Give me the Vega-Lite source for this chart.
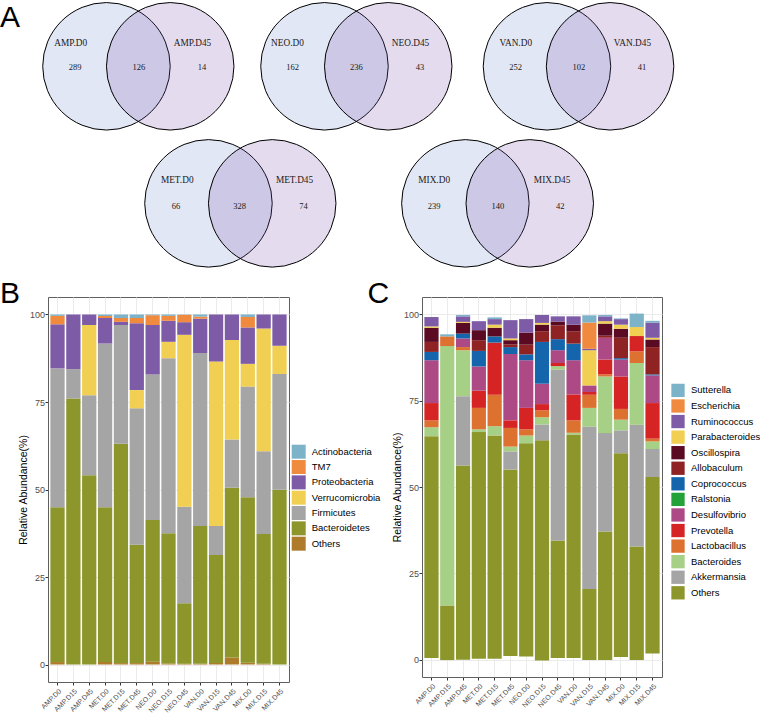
{
  "$schema": "https://vega.github.io/schema/vega-lite/v6.json",
  "padding": 0,
  "autosize": {"type": "pad"},
  "background": "white",
  "config": {
    "font": "Liberation Sans",
    "axis": {"labelFont": "Liberation Sans", "titleFont": "Liberation Sans"},
    "legend": {"labelFont": "Liberation Sans"}
  },
  "columns": 2,
  "bounds": "flush",
  "center": true,
  "spacing": {"row": 17, "column": 133},
  "resolve": {"scale": {"color": "independent", "fill": "independent"}, "legend": {"color": "independent", "fill": "independent"}},
  "datasets": {
    "letters": [
      {"t": "A", "x": 0, "y": 0.4267},
      {"t": "B", "x": 0, "y": 4.753},
      {"t": "C", "x": 5.765, "y": 4.753}
    ],
    "circles": [
      {"venn": "AMP", "set": "D0", "x": 1.67, "y": 1.04},
      {"venn": "AMP", "set": "D45", "x": 2.67, "y": 1.04},
      {"venn": "NEO", "set": "D0", "x": 5.09, "y": 1.04},
      {"venn": "NEO", "set": "D45", "x": 6.09, "y": 1.04},
      {"venn": "VAN", "set": "D0", "x": 8.58, "y": 1.04},
      {"venn": "VAN", "set": "D45", "x": 9.57, "y": 1.04},
      {"venn": "MET", "set": "D0", "x": 3.27, "y": 3.19},
      {"venn": "MET", "set": "D45", "x": 4.27, "y": 3.19},
      {"venn": "MIX", "set": "D0", "x": 7.30, "y": 3.19},
      {"venn": "MIX", "set": "D45", "x": 8.31, "y": 3.19}
    ],
    "vennText": [
      {"kind": "set", "t": "AMP.D0", "x": 1.11, "y": 0.68},
      {"kind": "set", "t": "AMP.D45", "x": 3.02, "y": 0.68},
      {"kind": "count", "t": "289", "x": 1.18, "y": 1.05},
      {"kind": "count", "t": "126", "x": 2.18, "y": 1.05},
      {"kind": "count", "t": "14", "x": 3.17, "y": 1.05},
      {"kind": "set", "t": "NEO.D0", "x": 4.51, "y": 0.68},
      {"kind": "set", "t": "NEO.D45", "x": 6.44, "y": 0.68},
      {"kind": "count", "t": "162", "x": 4.59, "y": 1.05},
      {"kind": "count", "t": "236", "x": 5.59, "y": 1.05},
      {"kind": "count", "t": "43", "x": 6.59, "y": 1.05},
      {"kind": "set", "t": "VAN.D0", "x": 8.09, "y": 0.68},
      {"kind": "set", "t": "VAN.D45", "x": 9.92, "y": 0.68},
      {"kind": "count", "t": "252", "x": 8.09, "y": 1.05},
      {"kind": "count", "t": "102", "x": 9.08, "y": 1.05},
      {"kind": "count", "t": "41", "x": 10.07, "y": 1.05},
      {"kind": "set", "t": "MET.D0", "x": 2.78, "y": 2.83},
      {"kind": "set", "t": "MET.D45", "x": 4.62, "y": 2.83},
      {"kind": "count", "t": "66", "x": 2.76, "y": 3.23},
      {"kind": "count", "t": "328", "x": 3.76, "y": 3.23},
      {"kind": "count", "t": "74", "x": 4.76, "y": 3.23},
      {"kind": "set", "t": "MIX.D0", "x": 6.81, "y": 2.83},
      {"kind": "set", "t": "MIX.D45", "x": 8.66, "y": 2.83},
      {"kind": "count", "t": "239", "x": 6.81, "y": 3.23},
      {"kind": "count", "t": "140", "x": 7.81, "y": 3.23},
      {"kind": "count", "t": "42", "x": 8.79, "y": 3.23}
    ],
    "phylum": [
      {"s": "AMP.D0", "p": "Others", "lo": 0, "hi": 0.7},
      {"s": "AMP.D0", "p": "Bacteroidetes", "lo": 0.7, "hi": 44.9},
      {"s": "AMP.D0", "p": "Firmicutes", "lo": 44.9, "hi": 84.6},
      {"s": "AMP.D0", "p": "Proteobacteria", "lo": 84.6, "hi": 97.2},
      {"s": "AMP.D0", "p": "TM7", "lo": 97.2, "hi": 99.6},
      {"s": "AMP.D0", "p": "Actinobacteria", "lo": 99.6, "hi": 100},
      {"s": "AMP.D15", "p": "Bacteroidetes", "lo": 0, "hi": 76.0},
      {"s": "AMP.D15", "p": "Firmicutes", "lo": 76.0, "hi": 84.4},
      {"s": "AMP.D15", "p": "Proteobacteria", "lo": 84.4, "hi": 100},
      {"s": "AMP.D45", "p": "Bacteroidetes", "lo": 0, "hi": 54.1},
      {"s": "AMP.D45", "p": "Firmicutes", "lo": 54.1, "hi": 76.9},
      {"s": "AMP.D45", "p": "Verrucomicrobia", "lo": 76.9, "hi": 97.0},
      {"s": "AMP.D45", "p": "Proteobacteria", "lo": 97.0, "hi": 100},
      {"s": "MET.D0", "p": "Others", "lo": 0, "hi": 0.7},
      {"s": "MET.D0", "p": "Bacteroidetes", "lo": 0.7, "hi": 44.9},
      {"s": "MET.D0", "p": "Firmicutes", "lo": 44.9, "hi": 91.7},
      {"s": "MET.D0", "p": "Proteobacteria", "lo": 91.7, "hi": 99.0},
      {"s": "MET.D0", "p": "TM7", "lo": 99.0, "hi": 99.6},
      {"s": "MET.D0", "p": "Actinobacteria", "lo": 99.6, "hi": 100},
      {"s": "MET.D15", "p": "Others", "lo": 0, "hi": 0.4},
      {"s": "MET.D15", "p": "Bacteroidetes", "lo": 0.4, "hi": 63.1},
      {"s": "MET.D15", "p": "Firmicutes", "lo": 63.1, "hi": 97.0},
      {"s": "MET.D15", "p": "Proteobacteria", "lo": 97.0, "hi": 97.9},
      {"s": "MET.D15", "p": "TM7", "lo": 97.9, "hi": 99.0},
      {"s": "MET.D15", "p": "Actinobacteria", "lo": 99.0, "hi": 100},
      {"s": "MET.D45", "p": "Others", "lo": 0, "hi": 0.4},
      {"s": "MET.D45", "p": "Bacteroidetes", "lo": 0.4, "hi": 34.2},
      {"s": "MET.D45", "p": "Firmicutes", "lo": 34.2, "hi": 73.2},
      {"s": "MET.D45", "p": "Verrucomicrobia", "lo": 73.2, "hi": 78.4},
      {"s": "MET.D45", "p": "Proteobacteria", "lo": 78.4, "hi": 97.5},
      {"s": "MET.D45", "p": "TM7", "lo": 97.5, "hi": 99.0},
      {"s": "MET.D45", "p": "Actinobacteria", "lo": 99.0, "hi": 100},
      {"s": "NEO.D0", "p": "Others", "lo": 0, "hi": 0.8},
      {"s": "NEO.D0", "p": "Bacteroidetes", "lo": 0.8, "hi": 41.3},
      {"s": "NEO.D0", "p": "Firmicutes", "lo": 41.3, "hi": 82.9},
      {"s": "NEO.D0", "p": "Proteobacteria", "lo": 82.9, "hi": 97.0},
      {"s": "NEO.D0", "p": "TM7", "lo": 97.0, "hi": 99.8},
      {"s": "NEO.D0", "p": "Actinobacteria", "lo": 99.8, "hi": 100},
      {"s": "NEO.D15", "p": "Others", "lo": 0, "hi": 0.3},
      {"s": "NEO.D15", "p": "Bacteroidetes", "lo": 0.3, "hi": 37.5},
      {"s": "NEO.D15", "p": "Firmicutes", "lo": 37.5, "hi": 87.5},
      {"s": "NEO.D15", "p": "Verrucomicrobia", "lo": 87.5, "hi": 92.2},
      {"s": "NEO.D15", "p": "Proteobacteria", "lo": 92.2, "hi": 98.2},
      {"s": "NEO.D15", "p": "TM7", "lo": 98.2, "hi": 99.6},
      {"s": "NEO.D15", "p": "Actinobacteria", "lo": 99.6, "hi": 100},
      {"s": "NEO.D45", "p": "Others", "lo": 0, "hi": 0.2},
      {"s": "NEO.D45", "p": "Bacteroidetes", "lo": 0.2, "hi": 17.5},
      {"s": "NEO.D45", "p": "Firmicutes", "lo": 17.5, "hi": 45.1},
      {"s": "NEO.D45", "p": "Verrucomicrobia", "lo": 45.1, "hi": 94.2},
      {"s": "NEO.D45", "p": "Proteobacteria", "lo": 94.2, "hi": 97.8},
      {"s": "NEO.D45", "p": "TM7", "lo": 97.8, "hi": 99.9},
      {"s": "NEO.D45", "p": "Actinobacteria", "lo": 99.9, "hi": 100},
      {"s": "VAN.D0", "p": "Others", "lo": 0, "hi": 0.2},
      {"s": "VAN.D0", "p": "Bacteroidetes", "lo": 0.2, "hi": 39.6},
      {"s": "VAN.D0", "p": "Firmicutes", "lo": 39.6, "hi": 89.0},
      {"s": "VAN.D0", "p": "Proteobacteria", "lo": 89.0, "hi": 98.8},
      {"s": "VAN.D0", "p": "TM7", "lo": 98.8, "hi": 99.4},
      {"s": "VAN.D0", "p": "Actinobacteria", "lo": 99.4, "hi": 100},
      {"s": "VAN.D15", "p": "Others", "lo": 0, "hi": 0.4},
      {"s": "VAN.D15", "p": "Bacteroidetes", "lo": 0.4, "hi": 31.3},
      {"s": "VAN.D15", "p": "Firmicutes", "lo": 31.3, "hi": 39.6},
      {"s": "VAN.D15", "p": "Verrucomicrobia", "lo": 39.6, "hi": 86.6},
      {"s": "VAN.D15", "p": "Proteobacteria", "lo": 86.6, "hi": 100},
      {"s": "VAN.D45", "p": "Others", "lo": 0, "hi": 2.0},
      {"s": "VAN.D45", "p": "Bacteroidetes", "lo": 2.0, "hi": 50.5},
      {"s": "VAN.D45", "p": "Firmicutes", "lo": 50.5, "hi": 64.3},
      {"s": "VAN.D45", "p": "Verrucomicrobia", "lo": 64.3, "hi": 92.7},
      {"s": "VAN.D45", "p": "Proteobacteria", "lo": 92.7, "hi": 100},
      {"s": "MIX.D0", "p": "Others", "lo": 0, "hi": 0.5},
      {"s": "MIX.D0", "p": "Bacteroidetes", "lo": 0.5, "hi": 47.8},
      {"s": "MIX.D0", "p": "Firmicutes", "lo": 47.8, "hi": 79.4},
      {"s": "MIX.D0", "p": "Verrucomicrobia", "lo": 79.4, "hi": 85.9},
      {"s": "MIX.D0", "p": "Proteobacteria", "lo": 85.9, "hi": 96.3},
      {"s": "MIX.D0", "p": "TM7", "lo": 96.3, "hi": 99.3},
      {"s": "MIX.D0", "p": "Actinobacteria", "lo": 99.3, "hi": 100},
      {"s": "MIX.D15", "p": "Others", "lo": 0, "hi": 0.2},
      {"s": "MIX.D15", "p": "Bacteroidetes", "lo": 0.2, "hi": 37.3},
      {"s": "MIX.D15", "p": "Firmicutes", "lo": 37.3, "hi": 60.9},
      {"s": "MIX.D15", "p": "Verrucomicrobia", "lo": 60.9, "hi": 96.0},
      {"s": "MIX.D15", "p": "Proteobacteria", "lo": 96.0, "hi": 100},
      {"s": "MIX.D45", "p": "Bacteroidetes", "lo": 0, "hi": 49.9},
      {"s": "MIX.D45", "p": "Firmicutes", "lo": 49.9, "hi": 83.0},
      {"s": "MIX.D45", "p": "Verrucomicrobia", "lo": 83.0, "hi": 91.1},
      {"s": "MIX.D45", "p": "Proteobacteria", "lo": 91.1, "hi": 100}
    ],
    "genus": [
      {"s": "AMP.D0", "g": "Others", "lo": 0.5, "hi": 64.7},
      {"s": "AMP.D0", "g": "Bacteroides", "lo": 64.7, "hi": 67.3},
      {"s": "AMP.D0", "g": "Lactobacillus", "lo": 67.3, "hi": 69.3},
      {"s": "AMP.D0", "g": "Prevotella", "lo": 69.3, "hi": 74.3},
      {"s": "AMP.D0", "g": "Desulfovibrio", "lo": 74.3, "hi": 86.7},
      {"s": "AMP.D0", "g": "Coprococcus", "lo": 86.7, "hi": 89.1},
      {"s": "AMP.D0", "g": "Allobaculum", "lo": 89.1, "hi": 92.0},
      {"s": "AMP.D0", "g": "Oscillospira", "lo": 92.0, "hi": 96.1},
      {"s": "AMP.D0", "g": "Parabacteroides", "lo": 96.1, "hi": 96.5},
      {"s": "AMP.D0", "g": "Ruminococcus", "lo": 96.5, "hi": 99.2},
      {"s": "AMP.D15", "g": "Others", "lo": -0.1, "hi": 15.7},
      {"s": "AMP.D15", "g": "Bacteroides", "lo": 15.7, "hi": 90.8},
      {"s": "AMP.D15", "g": "Lactobacillus", "lo": 90.8, "hi": 93.6},
      {"s": "AMP.D15", "g": "Sutterella", "lo": 93.6, "hi": 94.2},
      {"s": "AMP.D45", "g": "Others", "lo": 0, "hi": 56.2},
      {"s": "AMP.D45", "g": "Akkermansia", "lo": 56.2, "hi": 76.3},
      {"s": "AMP.D45", "g": "Bacteroides", "lo": 76.3, "hi": 89.6},
      {"s": "AMP.D45", "g": "Lactobacillus", "lo": 89.6, "hi": 90.5},
      {"s": "AMP.D45", "g": "Desulfovibrio", "lo": 90.5, "hi": 93.0},
      {"s": "AMP.D45", "g": "Coprococcus", "lo": 93.0, "hi": 94.4},
      {"s": "AMP.D45", "g": "Oscillospira", "lo": 94.4, "hi": 97.5},
      {"s": "AMP.D45", "g": "Parabacteroides", "lo": 97.5, "hi": 97.8},
      {"s": "AMP.D45", "g": "Ruminococcus", "lo": 97.8, "hi": 99.4},
      {"s": "AMP.D45", "g": "Sutterella", "lo": 99.4, "hi": 99.8},
      {"s": "MET.D0", "g": "Others", "lo": 0.3, "hi": 65.9},
      {"s": "MET.D0", "g": "Bacteroides", "lo": 65.9, "hi": 66.7},
      {"s": "MET.D0", "g": "Lactobacillus", "lo": 66.7, "hi": 72.9},
      {"s": "MET.D0", "g": "Prevotella", "lo": 72.9, "hi": 77.9},
      {"s": "MET.D0", "g": "Desulfovibrio", "lo": 77.9, "hi": 84.9},
      {"s": "MET.D0", "g": "Coprococcus", "lo": 84.9, "hi": 89.4},
      {"s": "MET.D0", "g": "Allobaculum", "lo": 89.4, "hi": 92.5},
      {"s": "MET.D0", "g": "Oscillospira", "lo": 92.5, "hi": 95.4},
      {"s": "MET.D0", "g": "Ruminococcus", "lo": 95.4, "hi": 98.0},
      {"s": "MET.D15", "g": "Others", "lo": 0.3, "hi": 64.9},
      {"s": "MET.D15", "g": "Bacteroides", "lo": 64.9, "hi": 67.6},
      {"s": "MET.D15", "g": "Lactobacillus", "lo": 67.6, "hi": 76.7},
      {"s": "MET.D15", "g": "Prevotella", "lo": 76.7, "hi": 91.8},
      {"s": "MET.D15", "g": "Coprococcus", "lo": 91.8, "hi": 93.6},
      {"s": "MET.D15", "g": "Oscillospira", "lo": 93.6, "hi": 96.1},
      {"s": "MET.D15", "g": "Parabacteroides", "lo": 96.1, "hi": 97.0},
      {"s": "MET.D15", "g": "Ruminococcus", "lo": 97.0, "hi": 98.6},
      {"s": "MET.D15", "g": "Sutterella", "lo": 98.6, "hi": 99.1},
      {"s": "MET.D45", "g": "Others", "lo": 1.1, "hi": 55.1},
      {"s": "MET.D45", "g": "Akkermansia", "lo": 55.1, "hi": 60.3},
      {"s": "MET.D45", "g": "Bacteroides", "lo": 60.3, "hi": 61.7},
      {"s": "MET.D45", "g": "Lactobacillus", "lo": 61.7, "hi": 67.1},
      {"s": "MET.D45", "g": "Prevotella", "lo": 67.1, "hi": 69.3},
      {"s": "MET.D45", "g": "Desulfovibrio", "lo": 69.3, "hi": 88.5},
      {"s": "MET.D45", "g": "Coprococcus", "lo": 88.5, "hi": 90.5},
      {"s": "MET.D45", "g": "Allobaculum", "lo": 90.5, "hi": 91.3},
      {"s": "MET.D45", "g": "Oscillospira", "lo": 91.3, "hi": 92.5},
      {"s": "MET.D45", "g": "Parabacteroides", "lo": 92.5, "hi": 93.0},
      {"s": "MET.D45", "g": "Ruminococcus", "lo": 93.0, "hi": 98.3},
      {"s": "NEO.D0", "g": "Others", "lo": 0.9, "hi": 62.7},
      {"s": "NEO.D0", "g": "Bacteroides", "lo": 62.7, "hi": 64.9},
      {"s": "NEO.D0", "g": "Lactobacillus", "lo": 64.9, "hi": 66.7},
      {"s": "NEO.D0", "g": "Prevotella", "lo": 66.7, "hi": 72.9},
      {"s": "NEO.D0", "g": "Desulfovibrio", "lo": 72.9, "hi": 86.7},
      {"s": "NEO.D0", "g": "Coprococcus", "lo": 86.7, "hi": 88.4},
      {"s": "NEO.D0", "g": "Allobaculum", "lo": 88.4, "hi": 91.2},
      {"s": "NEO.D0", "g": "Oscillospira", "lo": 91.2, "hi": 94.7},
      {"s": "NEO.D0", "g": "Ruminococcus", "lo": 94.7, "hi": 98.6},
      {"s": "NEO.D15", "g": "Others", "lo": -0.2, "hi": 63.5},
      {"s": "NEO.D15", "g": "Akkermansia", "lo": 63.5, "hi": 68.1},
      {"s": "NEO.D15", "g": "Bacteroides", "lo": 68.1, "hi": 70.2},
      {"s": "NEO.D15", "g": "Lactobacillus", "lo": 70.2, "hi": 72.2},
      {"s": "NEO.D15", "g": "Prevotella", "lo": 72.2, "hi": 74.0},
      {"s": "NEO.D15", "g": "Desulfovibrio", "lo": 74.0, "hi": 79.9},
      {"s": "NEO.D15", "g": "Coprococcus", "lo": 79.9, "hi": 92.0},
      {"s": "NEO.D15", "g": "Allobaculum", "lo": 92.0, "hi": 95.1},
      {"s": "NEO.D15", "g": "Oscillospira", "lo": 95.1, "hi": 97.0},
      {"s": "NEO.D15", "g": "Parabacteroides", "lo": 97.0, "hi": 97.5},
      {"s": "NEO.D15", "g": "Ruminococcus", "lo": 97.5, "hi": 99.8},
      {"s": "NEO.D45", "g": "Others", "lo": 0.5, "hi": 34.5},
      {"s": "NEO.D45", "g": "Akkermansia", "lo": 34.5, "hi": 84.0},
      {"s": "NEO.D45", "g": "Bacteroides", "lo": 84.0, "hi": 85.0},
      {"s": "NEO.D45", "g": "Prevotella", "lo": 85.0, "hi": 85.9},
      {"s": "NEO.D45", "g": "Desulfovibrio", "lo": 85.9, "hi": 89.6},
      {"s": "NEO.D45", "g": "Coprococcus", "lo": 89.6, "hi": 92.8},
      {"s": "NEO.D45", "g": "Allobaculum", "lo": 92.8, "hi": 96.8},
      {"s": "NEO.D45", "g": "Oscillospira", "lo": 96.8, "hi": 97.9},
      {"s": "NEO.D45", "g": "Ruminococcus", "lo": 97.9, "hi": 99.4},
      {"s": "VAN.D0", "g": "Others", "lo": 0.5, "hi": 65.2},
      {"s": "VAN.D0", "g": "Bacteroides", "lo": 65.2, "hi": 65.7},
      {"s": "VAN.D0", "g": "Lactobacillus", "lo": 65.7, "hi": 69.3},
      {"s": "VAN.D0", "g": "Prevotella", "lo": 69.3, "hi": 76.8},
      {"s": "VAN.D0", "g": "Desulfovibrio", "lo": 76.8, "hi": 86.7},
      {"s": "VAN.D0", "g": "Coprococcus", "lo": 86.7, "hi": 91.5},
      {"s": "VAN.D0", "g": "Allobaculum", "lo": 91.5, "hi": 95.1},
      {"s": "VAN.D0", "g": "Oscillospira", "lo": 95.1, "hi": 97.0},
      {"s": "VAN.D0", "g": "Ruminococcus", "lo": 97.0, "hi": 99.4},
      {"s": "VAN.D15", "g": "Others", "lo": -0.1, "hi": 20.5},
      {"s": "VAN.D15", "g": "Akkermansia", "lo": 20.5, "hi": 67.5},
      {"s": "VAN.D15", "g": "Bacteroides", "lo": 67.5, "hi": 72.9},
      {"s": "VAN.D15", "g": "Lactobacillus", "lo": 72.9, "hi": 76.7},
      {"s": "VAN.D15", "g": "Prevotella", "lo": 76.7, "hi": 77.5},
      {"s": "VAN.D15", "g": "Desulfovibrio", "lo": 77.5, "hi": 79.4},
      {"s": "VAN.D15", "g": "Parabacteroides", "lo": 79.4, "hi": 89.6},
      {"s": "VAN.D15", "g": "Ruminococcus", "lo": 89.6, "hi": 90.0},
      {"s": "VAN.D15", "g": "Escherichia", "lo": 90.0, "hi": 97.6},
      {"s": "VAN.D15", "g": "Sutterella", "lo": 97.6, "hi": 99.7},
      {"s": "VAN.D45", "g": "Others", "lo": -0.1, "hi": 37.1},
      {"s": "VAN.D45", "g": "Akkermansia", "lo": 37.1, "hi": 65.6},
      {"s": "VAN.D45", "g": "Bacteroides", "lo": 65.6, "hi": 82.0},
      {"s": "VAN.D45", "g": "Lactobacillus", "lo": 82.0, "hi": 82.6},
      {"s": "VAN.D45", "g": "Prevotella", "lo": 82.6, "hi": 86.9},
      {"s": "VAN.D45", "g": "Desulfovibrio", "lo": 86.9, "hi": 93.2},
      {"s": "VAN.D45", "g": "Allobaculum", "lo": 93.2, "hi": 93.8},
      {"s": "VAN.D45", "g": "Oscillospira", "lo": 93.8, "hi": 97.3},
      {"s": "VAN.D45", "g": "Parabacteroides", "lo": 97.3, "hi": 98.0},
      {"s": "VAN.D45", "g": "Ruminococcus", "lo": 98.0, "hi": 99.4},
      {"s": "VAN.D45", "g": "Sutterella", "lo": 99.4, "hi": 99.8},
      {"s": "MIX.D0", "g": "Others", "lo": 0.8, "hi": 59.8},
      {"s": "MIX.D0", "g": "Akkermansia", "lo": 59.8, "hi": 66.4},
      {"s": "MIX.D0", "g": "Bacteroides", "lo": 66.4, "hi": 69.5},
      {"s": "MIX.D0", "g": "Lactobacillus", "lo": 69.5, "hi": 72.6},
      {"s": "MIX.D0", "g": "Prevotella", "lo": 72.6, "hi": 82.0},
      {"s": "MIX.D0", "g": "Desulfovibrio", "lo": 82.0, "hi": 86.9},
      {"s": "MIX.D0", "g": "Coprococcus", "lo": 86.9, "hi": 87.3},
      {"s": "MIX.D0", "g": "Allobaculum", "lo": 87.3, "hi": 93.2},
      {"s": "MIX.D0", "g": "Oscillospira", "lo": 93.2, "hi": 95.8},
      {"s": "MIX.D0", "g": "Parabacteroides", "lo": 95.8, "hi": 97.0},
      {"s": "MIX.D0", "g": "Ruminococcus", "lo": 97.0, "hi": 98.6},
      {"s": "MIX.D0", "g": "Sutterella", "lo": 98.6, "hi": 98.8},
      {"s": "MIX.D15", "g": "Others", "lo": -0.1, "hi": 32.8},
      {"s": "MIX.D15", "g": "Akkermansia", "lo": 32.8, "hi": 68.0},
      {"s": "MIX.D15", "g": "Bacteroides", "lo": 68.0, "hi": 85.9},
      {"s": "MIX.D15", "g": "Lactobacillus", "lo": 85.9, "hi": 89.3},
      {"s": "MIX.D15", "g": "Prevotella", "lo": 89.3, "hi": 93.7},
      {"s": "MIX.D15", "g": "Parabacteroides", "lo": 93.7, "hi": 96.3},
      {"s": "MIX.D15", "g": "Sutterella", "lo": 96.3, "hi": 100.2},
      {"s": "MIX.D45", "g": "Others", "lo": 1.8, "hi": 52.9},
      {"s": "MIX.D45", "g": "Akkermansia", "lo": 52.9, "hi": 61.0},
      {"s": "MIX.D45", "g": "Bacteroides", "lo": 61.0, "hi": 63.2},
      {"s": "MIX.D45", "g": "Lactobacillus", "lo": 63.2, "hi": 64.0},
      {"s": "MIX.D45", "g": "Prevotella", "lo": 64.0, "hi": 74.3},
      {"s": "MIX.D45", "g": "Desulfovibrio", "lo": 74.3, "hi": 82.3},
      {"s": "MIX.D45", "g": "Coprococcus", "lo": 82.3, "hi": 82.6},
      {"s": "MIX.D45", "g": "Allobaculum", "lo": 82.6, "hi": 90.5},
      {"s": "MIX.D45", "g": "Oscillospira", "lo": 90.5, "hi": 92.7},
      {"s": "MIX.D45", "g": "Parabacteroides", "lo": 92.7, "hi": 93.2},
      {"s": "MIX.D45", "g": "Ruminococcus", "lo": 93.2, "hi": 97.6},
      {"s": "MIX.D45", "g": "Sutterella", "lo": 97.6, "hi": 98.1}
    ]
  },
  "concat": [
    {
      "width": 241,
      "height": 280,
      "view": {"stroke": null},
      "layer": [
        {
          "data": {"name": "circles"},
          "mark": {"type": "point", "shape": "circle", "filled": true, "size": 16256, "opacity": 1, "fillOpacity": 0.2, "stroke": "#000000", "strokeWidth": 1, "strokeOpacity": 1},
          "encoding": {
            "x": {"field": "x", "type": "quantitative", "scale": {"domain": [0.75294, 4.53333], "nice": false, "zero": false}, "axis": null},
            "y": {"field": "y", "type": "quantitative", "scale": {"domain": [0, 4.39216], "nice": false, "zero": false, "reverse": true}, "axis": null},
            "fill": {"field": "set", "type": "nominal", "scale": {"domain": ["D0", "D45"], "range": ["#6987c8", "#7850aa"]}, "legend": null}
          }
        },
        {
          "data": {"name": "vennText"},
          "transform": [{"filter": {"field": "kind", "equal": "set"}}],
          "mark": {"type": "text", "font": "Liberation Serif", "fontSize": 9.3, "color": "#1a1a1a", "baseline": "middle", "align": "center"},
          "encoding": {
            "x": {"field": "x", "type": "quantitative"},
            "y": {"field": "y", "type": "quantitative"},
            "text": {"field": "t"}
          }
        },
        {
          "data": {"name": "vennText"},
          "transform": [{"filter": {"field": "kind", "equal": "count"}}],
          "mark": {"type": "text", "font": "Liberation Serif", "fontSize": 8.5, "color": "#1a1a1a", "baseline": "middle", "align": "center"},
          "encoding": {
            "x": {"field": "x", "type": "quantitative"},
            "y": {"field": "y", "type": "quantitative"},
            "text": {"field": "t"}
          }
        },
        {
          "data": {"name": "letters"},
          "mark": {"type": "text", "font": "Liberation Sans", "fontSize": 30, "color": "#000000", "baseline": "alphabetic", "align": "left"},
          "encoding": {
            "x": {"field": "x", "type": "quantitative"},
            "y": {"field": "y", "type": "quantitative"},
            "text": {"field": "t"}
          }
        }
      ]
    },
    {
      "width": 240,
      "height": 280,
      "view": {"stroke": null},
      "data": {"values": [{"k": 1}]},
      "mark": {"type": "text", "text": " "},
      "encoding": {}
    },
    {
      "width": 241,
      "height": 385,
      "view": {"stroke": "#5f5f5f", "strokeWidth": 1},
      "data": {"name": "phylum"},
      "mark": {"type": "bar"},
      "encoding": {
        "x": {
          "field": "s", "type": "nominal",
          "sort": ["AMP.D0", "AMP.D15", "AMP.D45", "MET.D0", "MET.D15", "MET.D45", "NEO.D0", "NEO.D15", "NEO.D45", "VAN.D0", "VAN.D15", "VAN.D45", "MIX.D0", "MIX.D15", "MIX.D45"],
          "scale": {"paddingInner": 0.1, "paddingOuter": 0.15},
          "axis": {"title": null, "labelAngle": -45, "labelFontSize": 7, "labelColor": "#4d4d4d", "labelPadding": 2, "tickSize": 3, "tickColor": "#333333", "domain": false, "grid": true, "gridColor": "#ebebeb", "bandPosition": 0.5}
        },
        "y": {
          "field": "lo", "type": "quantitative",
          "scale": {"domain": [-5, 105], "nice": false, "zero": false},
          "axis": {"values": [0, 25, 50, 75, 100], "title": "Relative Abundance(%)", "titleFontSize": 10.5, "titleFontWeight": "normal", "titleColor": "#000000", "titlePadding": 0.5, "labelFontSize": 9, "labelColor": "#4d4d4d", "labelPadding": 0.5, "tickSize": 3, "tickColor": "#333333", "domain": false, "grid": true, "gridColor": "#ebebeb"}
        },
        "y2": {"field": "hi"},
        "color": {
          "field": "p", "type": "nominal",
          "scale": {
            "domain": ["Actinobacteria", "TM7", "Proteobacteria", "Verrucomicrobia", "Firmicutes", "Bacteroidetes", "Others"],
            "range": ["#7db3c8", "#ef8a3e", "#7d5ba6", "#f0cf52", "#a5a5a5", "#8c962b", "#ad7b2a"]
          },
          "legend": {"title": null, "orient": "none", "legendX": 243.7, "legendY": 147.7, "symbolType": "square", "symbolSize": 196, "symbolStrokeWidth": 0, "labelFontSize": 9.5, "labelColor": "#000000", "labelOffset": 6, "rowPadding": 1.33, "padding": 0}
        }
      }
    },
    {
      "width": 240,
      "height": 380,
      "view": {"stroke": "#5f5f5f", "strokeWidth": 1},
      "data": {"name": "genus"},
      "mark": {"type": "bar"},
      "encoding": {
        "x": {
          "field": "s", "type": "nominal",
          "sort": ["AMP.D0", "AMP.D15", "AMP.D45", "MET.D0", "MET.D15", "MET.D45", "NEO.D0", "NEO.D15", "NEO.D45", "VAN.D0", "VAN.D15", "VAN.D45", "MIX.D0", "MIX.D15", "MIX.D45"],
          "scale": {"paddingInner": 0.1, "paddingOuter": 0.15},
          "axis": {"title": null, "labelAngle": -45, "labelFontSize": 7, "labelColor": "#4d4d4d", "labelPadding": 2, "tickSize": 3, "tickColor": "#333333", "domain": false, "grid": true, "gridColor": "#ebebeb", "bandPosition": 0.5}
        },
        "y": {
          "field": "lo", "type": "quantitative",
          "scale": {"domain": [-5, 105], "nice": false, "zero": false},
          "axis": {"values": [0, 25, 50, 75, 100], "title": "Relative Abundance(%)", "titleFontSize": 10.5, "titleFontWeight": "normal", "titleColor": "#000000", "titlePadding": 0.5, "labelFontSize": 9, "labelColor": "#4d4d4d", "labelPadding": 0.5, "tickSize": 3, "tickColor": "#333333", "domain": false, "grid": true, "gridColor": "#ebebeb"}
        },
        "y2": {"field": "hi"},
        "color": {
          "field": "g", "type": "nominal",
          "scale": {
            "domain": ["Sutterella", "Escherichia", "Ruminococcus", "Parabacteroides", "Oscillospira", "Allobaculum", "Coprococcus", "Ralstonia", "Desulfovibrio", "Prevotella", "Lactobacillus", "Bacteroides", "Akkermansia", "Others"],
            "range": ["#7db3c8", "#ef8a3e", "#7d5ba6", "#f0cf52", "#5a0b23", "#8f2323", "#1565ac", "#23a23a", "#ad4a86", "#d62424", "#dd7130", "#a6d085", "#a5a5a5", "#8c962b"]
          },
          "legend": {"title": null, "orient": "none", "legendX": 249, "legendY": 86.4, "symbolType": "square", "symbolSize": 177, "symbolStrokeWidth": 0, "labelFontSize": 9.5, "labelColor": "#000000", "labelOffset": 6, "rowPadding": 1.57, "padding": 0}
        }
      }
    }
  ]
}
